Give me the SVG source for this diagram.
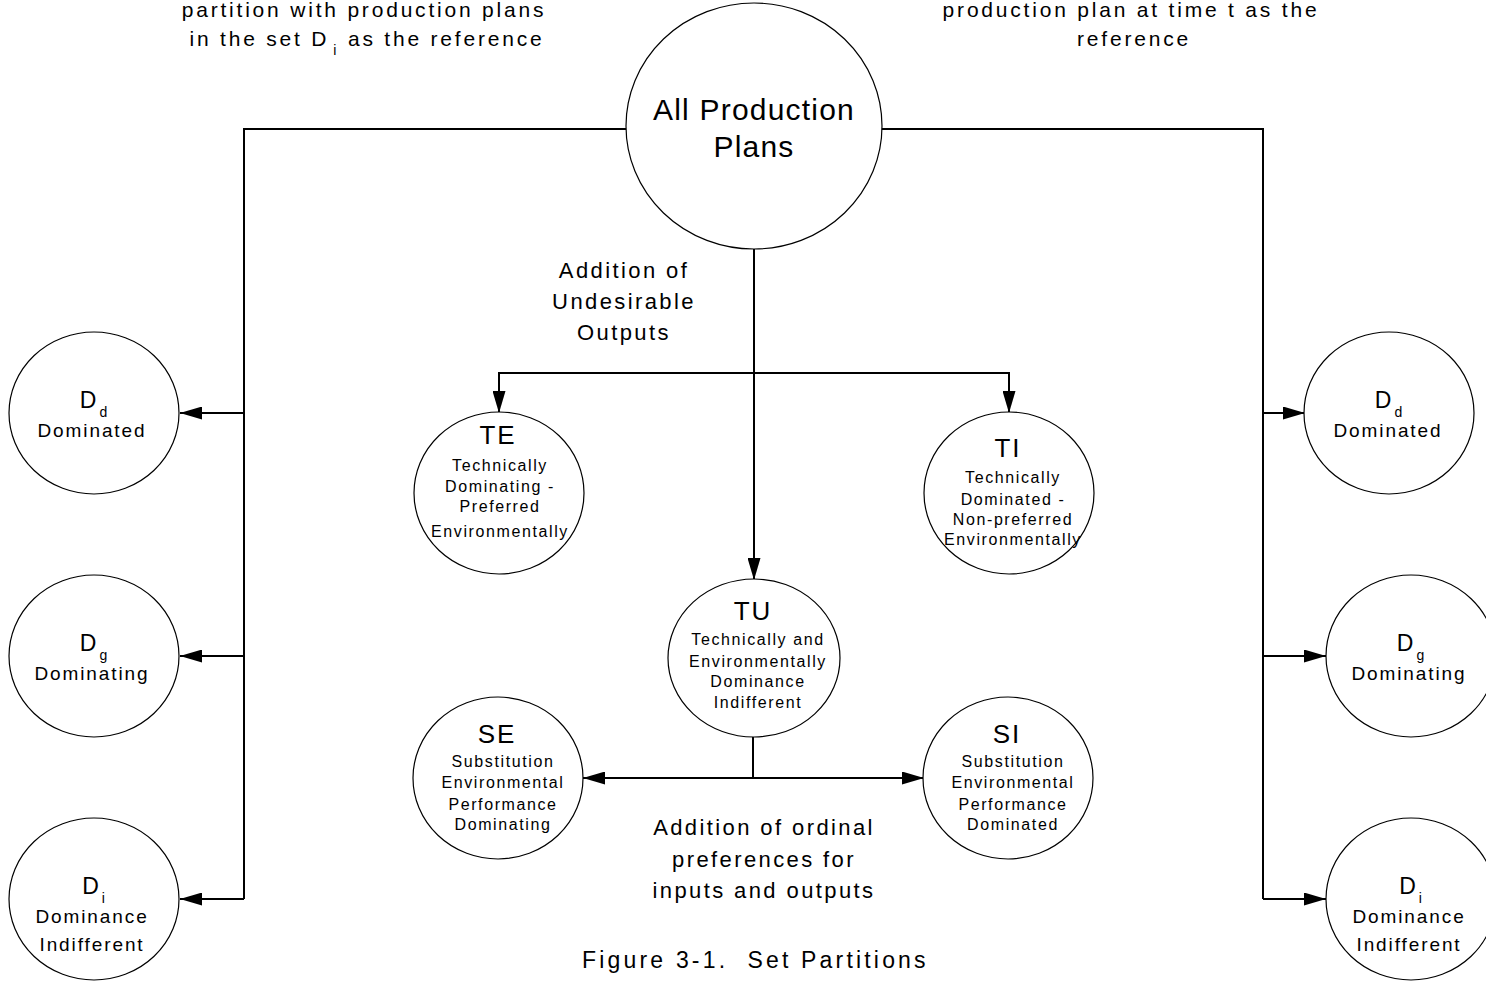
<svg xmlns="http://www.w3.org/2000/svg" width="1486" height="982" viewBox="0 0 1486 982">
<style>
text{font-family:"Liberation Sans",Arial,sans-serif;fill:#000;text-anchor:middle}
.node ellipse{fill:#fff;stroke:#000;stroke-width:1.2}
.note{font-size:21px;letter-spacing:2.8px}
.big{font-size:30px;letter-spacing:1.2px}
.lab{font-size:22px;letter-spacing:2.4px}
.ttl{font-size:26px;letter-spacing:2px}
.sm{font-size:16px;letter-spacing:1.6px}
.dd{font-size:23px;letter-spacing:1px}
.dn{font-size:19px;letter-spacing:1.9px}
.sub{font-size:14px}
.cap{font-size:23px;letter-spacing:2.4px}
.conn path{fill:none;stroke:#000;stroke-width:2}
</style>
<defs>
<marker id="ah" markerUnits="userSpaceOnUse" markerWidth="22" markerHeight="13" refX="22" refY="6.5" orient="auto">
<path d="M0,0 L22,6.5 L0,13 z" fill="#000"/>
</marker>
</defs>
<rect width="1486" height="982" fill="#fff"/>

<g class="conn">
<path d="M626,129 H244 V899"/>
<path d="M244,413 H180" marker-end="url(#ah)"/>
<path d="M244,656 H180" marker-end="url(#ah)"/>
<path d="M244,899 H180" marker-end="url(#ah)"/>
<path d="M881,129 H1263 V899"/>
<path d="M1263,413 H1305" marker-end="url(#ah)"/>
<path d="M1263,656 H1326" marker-end="url(#ah)"/>
<path d="M1263,899 H1326" marker-end="url(#ah)"/>
<path d="M754,249 V580" marker-end="url(#ah)"/>
<path d="M499,413 V373 H1009 V413" marker-end="url(#ah)"/>
<path d="M499,373 V413" marker-end="url(#ah)"/>
<path d="M753,737 V778"/>
<path d="M753,778 H583" marker-end="url(#ah)"/>
<path d="M753,778 H924" marker-end="url(#ah)"/>
</g>

<g id="all" class="node">
<ellipse cx="754" cy="126" rx="128" ry="123"/>
<text class="big" x="754" y="120">All Production</text>
<text class="big" x="754" y="157">Plans</text>
</g>

<g id="note-left">
<text class="note" x="364" y="17">partition with production plans</text>
<text class="note" x="367" y="46">in the set D<tspan class="sub" dx="4" dy="9">i</tspan><tspan dy="-9"> as the reference</tspan></text>
</g>
<g id="note-right">
<text class="note" x="1131" y="17">production plan at time t as the</text>
<text class="note" x="1134" y="46">reference</text>
</g>

<g id="label-undesirable">
<text class="lab" x="624" y="278">Addition of</text>
<text class="lab" x="624" y="309">Undesirable</text>
<text class="lab" x="624" y="340">Outputs</text>
</g>
<g id="label-ordinal">
<text class="lab" x="764" y="835">Addition of ordinal</text>
<text class="lab" x="764" y="867">preferences for</text>
<text class="lab" x="764" y="898">inputs and outputs</text>
</g>

<g id="left-dd" class="node">
<ellipse cx="94" cy="413" rx="85" ry="81"/>
<text class="dd" x="94" y="408">D<tspan class="sub" dx="2" dy="9">d</tspan></text>
<text class="dn" x="92" y="437">Dominated</text>
</g>
<g id="left-dg" class="node">
<ellipse cx="94" cy="656" rx="85" ry="81"/>
<text class="dd" x="94" y="651">D<tspan class="sub" dx="2" dy="9">g</tspan></text>
<text class="dn" x="92" y="680">Dominating</text>
</g>
<g id="left-di" class="node">
<ellipse cx="94" cy="899" rx="85" ry="81"/>
<text class="dd" x="94" y="894">D<tspan class="sub" dx="2" dy="9">i</tspan></text>
<text class="dn" x="92" y="923">Dominance</text>
<text class="dn" x="92" y="951">Indifferent</text>
</g>

<g id="right-dd" class="node">
<ellipse cx="1389" cy="413" rx="85" ry="81"/>
<text class="dd" x="1389" y="408">D<tspan class="sub" dx="2" dy="9">d</tspan></text>
<text class="dn" x="1388" y="437">Dominated</text>
</g>
<g id="right-dg" class="node">
<ellipse cx="1411" cy="656" rx="85" ry="81"/>
<text class="dd" x="1411" y="651">D<tspan class="sub" dx="2" dy="9">g</tspan></text>
<text class="dn" x="1409" y="680">Dominating</text>
</g>
<g id="right-di" class="node">
<ellipse cx="1411" cy="899" rx="85" ry="81"/>
<text class="dd" x="1411" y="894">D<tspan class="sub" dx="2" dy="9">i</tspan></text>
<text class="dn" x="1409" y="923">Dominance</text>
<text class="dn" x="1409" y="951">Indifferent</text>
</g>

<g id="te" class="node">
<ellipse cx="499" cy="493" rx="85" ry="81"/>
<text class="ttl" x="498" y="444">TE</text>
<text class="sm" x="500" y="471">Technically</text>
<text class="sm" x="500" y="492">Dominating -</text>
<text class="sm" x="500" y="512">Preferred</text>
<text class="sm" x="500" y="537">Environmentally</text>
</g>
<g id="ti" class="node">
<ellipse cx="1009" cy="493" rx="85" ry="81"/>
<text class="ttl" x="1008" y="457">TI</text>
<text class="sm" x="1013" y="483">Technically</text>
<text class="sm" x="1013" y="505">Dominated -</text>
<text class="sm" x="1013" y="525">Non-preferred</text>
<text class="sm" x="1013" y="545">Environmentally</text>
</g>
<g id="tu" class="node">
<ellipse cx="754" cy="658" rx="86" ry="79"/>
<text class="ttl" x="753" y="620">TU</text>
<text class="sm" x="758" y="645">Technically and</text>
<text class="sm" x="758" y="667">Environmentally</text>
<text class="sm" x="758" y="687">Dominance</text>
<text class="sm" x="758" y="708">Indifferent</text>
</g>
<g id="se" class="node">
<ellipse cx="498" cy="778" rx="85" ry="81"/>
<text class="ttl" x="497" y="743">SE</text>
<text class="sm" x="503" y="767">Substitution</text>
<text class="sm" x="503" y="788">Environmental</text>
<text class="sm" x="503" y="810">Performance</text>
<text class="sm" x="503" y="830">Dominating</text>
</g>
<g id="si" class="node">
<ellipse cx="1008" cy="778" rx="85" ry="81"/>
<text class="ttl" x="1007" y="743">SI</text>
<text class="sm" x="1013" y="767">Substitution</text>
<text class="sm" x="1013" y="788">Environmental</text>
<text class="sm" x="1013" y="810">Performance</text>
<text class="sm" x="1013" y="830">Dominated</text>
</g>

<g id="caption">
<text class="cap" x="755" y="968" textLength="346" lengthAdjust="spacing" xml:space="preserve">Figure 3-1.  Set Partitions</text>
</g>
</svg>
